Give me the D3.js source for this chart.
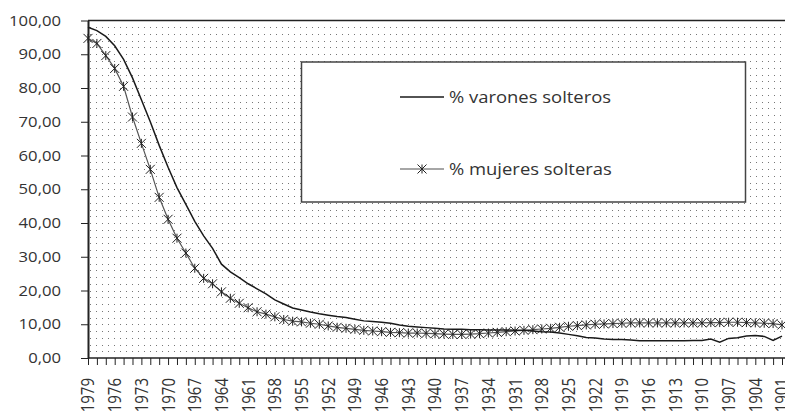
<!DOCTYPE html>
<html>
<head>
<meta charset="utf-8">
<script src="https://cdn.jsdelivr.net/npm/d3@7"></script>
<style>
  body { margin: 0; background: #fff; }
  svg { display: block; }
  text { font-family: "Open Sans", sans-serif; fill: #333; }
</style>
</head>
<body>
<div id="chart"></div>
<script>
var years = [1979, 1978, 1977, 1976, 1975, 1974, 1973, 1972, 1971, 1970,
    1969, 1968, 1967, 1966, 1965, 1964, 1963, 1962, 1961, 1960,
    1959, 1958, 1957, 1956, 1955, 1954, 1953, 1952, 1951, 1950,
    1949, 1948, 1947, 1946, 1945, 1944, 1943, 1942, 1941, 1940,
    1939, 1938, 1937, 1936, 1935, 1934, 1933, 1932, 1931, 1930,
    1929, 1928, 1927, 1926, 1925, 1924, 1923, 1922, 1921, 1920,
    1919, 1918, 1917, 1916, 1915, 1914, 1913, 1912, 1911, 1910,
    1909, 1908, 1907, 1906, 1905, 1904, 1903, 1902, 1901];

var varones = [98.0, 97.0, 95.3, 92.5, 88.5, 83.0, 76.5, 70.0, 63.0, 56.5,
    50.5, 45.5, 40.5, 36.2, 32.5, 27.8, 25.5, 23.8, 22.0, 20.5,
    19.0, 17.2, 16.0, 14.8, 14.2, 13.6, 13.1, 12.7, 12.3, 12.0,
    11.5, 11.0, 10.8, 10.6, 10.3, 9.8, 9.4, 9.2, 9.0, 8.8,
    8.6, 8.5, 8.5, 8.4, 8.4, 8.3, 8.3, 8.3, 8.2, 8.2,
    8.0, 7.8, 7.7, 7.4, 7.0, 6.6, 6.1, 5.9, 5.6, 5.5,
    5.5, 5.3, 5.1, 5.1, 5.1, 5.1, 5.1, 5.1, 5.2, 5.2,
    5.6, 4.7, 5.8, 6.0, 6.5, 6.7, 6.4, 5.2, 6.5];

var mujeres = [94.7, 93.2, 89.6, 85.8, 80.5, 71.4, 63.6, 55.9, 47.6, 41.1,
    35.5, 31.1, 26.6, 23.6, 22.0, 19.6, 17.7, 16.2, 14.9, 13.7,
    13.0, 12.2, 11.4, 10.9, 10.7, 10.3, 10.0, 9.5, 9.1, 8.8,
    8.5, 8.2, 8.0, 7.8, 7.6, 7.5, 7.4, 7.4, 7.3, 7.2,
    7.1, 7.0, 7.0, 7.1, 7.2, 7.4, 7.6, 7.8, 8.0, 8.2,
    8.4, 8.6, 8.8, 9.1, 9.4, 9.6, 9.8, 10.0, 10.1, 10.2,
    10.3, 10.4, 10.4, 10.4, 10.4, 10.4, 10.4, 10.4, 10.4, 10.4,
    10.5, 10.5, 10.6, 10.6, 10.5, 10.4, 10.3, 10.2, 9.8];

var yTicks = [0, 10, 20, 30, 40, 50, 60, 70, 80, 90, 100];
var seriesLabels = ['% varones solteros', '% mujeres solteras'];

var width = 785, height = 411;
var plotLeft = 88, plotRight = 782, plotTop = 20.5, plotBottom = 358;
var stretch = 1.19; // texto algo ensanchado como en el original

var svg = d3.select("#chart").append("svg")
    .attr("width", width)
    .attr("height", height);

var x = d3.scalePoint()
    .domain(years)
    .range([plotLeft, plotRight]);

var y = d3.scaleLinear()
    .domain([0, 100])
    .range([plotBottom, plotTop]);

var fmt = function (d) { return d3.format(".2f")(d).replace(".", ","); };

// fondo punteado
var dotRows = d3.range(2, 100, 2);
svg.append("g").selectAll("line")
    .data(dotRows)
    .enter().append("line")
    .attr("x1", plotLeft + 2).attr("x2", width)
    .attr("y1", function (d) { return Math.round(y(d)) + 0.5; })
    .attr("y2", function (d) { return Math.round(y(d)) + 0.5; })
    .attr("stroke", "#777")
    .attr("stroke-dasharray", "1 5");

// borde superior
svg.append("line")
    .attr("x1", plotLeft).attr("x2", width)
    .attr("y1", plotTop).attr("y2", plotTop)
    .attr("stroke", "#222").attr("stroke-width", 1.5);

// eje y
var yAxis = svg.append("g")
    .attr("transform", "translate(" + plotLeft + ",0)")
    .call(d3.axisLeft(y).tickValues(yTicks).tickSize(7).tickSizeOuter(0).tickFormat(""));
yAxis.select(".domain").attr("stroke", "#222").attr("stroke-width", 2);
yAxis.selectAll(".tick line").attr("stroke", "#222");

svg.append("g").selectAll("text")
    .data(yTicks)
    .enter().append("text")
    .attr("transform", function (d) { return "translate(61," + y(d) + ") scale(" + stretch + ",1)"; })
    .attr("dy", "0.36em")
    .attr("text-anchor", "end")
    .style("font-size", "14px")
    .text(fmt);

// eje x
var xAxis = svg.append("g")
    .attr("transform", "translate(0," + plotBottom + ")")
    .call(d3.axisBottom(x).tickSize(7).tickSizeOuter(0).tickFormat(""));
xAxis.select(".domain").attr("stroke", "#222").attr("stroke-width", 1.5)
    .attr("d", "M" + plotLeft + ",0H" + width);
xAxis.selectAll(".tick line").attr("stroke", "#222");

svg.append("g").selectAll("text")
    .data(years.filter(function (d, i) { return i % 3 === 0; }))
    .enter().append("text")
    .attr("transform", function (d) { return "translate(" + x(d) + ",378) scale(" + stretch + ",1) rotate(-90)"; })
    .attr("dy", "0.36em")
    .attr("text-anchor", "end")
    .style("font-size", "15px")
    .text(function (d) { return d; });

// series
var line = d3.line()
    .x(function (d, i) { return x(years[i]); })
    .y(function (d) { return y(d); });

svg.append("path")
    .datum(mujeres)
    .attr("fill", "none")
    .attr("stroke", "#555")
    .attr("stroke-width", 1.2)
    .attr("d", line);

var star = "M-4.5,-4.5L4.5,4.5M-4.5,4.5L4.5,-4.5M0,-4.5L0,4.5";
svg.append("g").selectAll("path")
    .data(mujeres)
    .enter().append("path")
    .attr("transform", function (d, i) { return "translate(" + x(years[i]) + "," + y(d) + ")"; })
    .attr("d", star)
    .attr("fill", "none")
    .attr("stroke", "#222")
    .attr("stroke-width", 1);

svg.append("path")
    .datum(varones)
    .attr("fill", "none")
    .attr("stroke", "#1a1a1a")
    .attr("stroke-width", 1.5)
    .attr("d", line);

// leyenda
var legend = svg.append("g");
legend.append("rect")
    .attr("x", 301.5).attr("y", 62)
    .attr("width", 444).attr("height", 140)
    .attr("fill", "#fff")
    .attr("stroke", "#444")
    .attr("stroke-width", 1.5);

var legendY = [97, 169];
var item = legend.selectAll(".item")
    .data(seriesLabels)
    .enter().append("g")
    .attr("transform", function (d, i) { return "translate(0," + legendY[i] + ")"; });

item.append("line")
    .attr("x1", 400).attr("x2", 444)
    .attr("stroke", function (d, i) { return i === 0 ? "#1a1a1a" : "#888"; })
    .attr("stroke-width", 1.5);

item.filter(function (d, i) { return i === 1; })
    .append("path")
    .attr("transform", "translate(422,0)")
    .attr("d", star)
    .attr("fill", "none")
    .attr("stroke", "#222");

item.append("text")
    .attr("transform", "translate(449,0) scale(" + stretch + ",1)")
    .attr("dy", "0.36em")
    .style("font-size", "15.5px")
    .text(function (d) { return d; });
</script>
</body>
</html>
